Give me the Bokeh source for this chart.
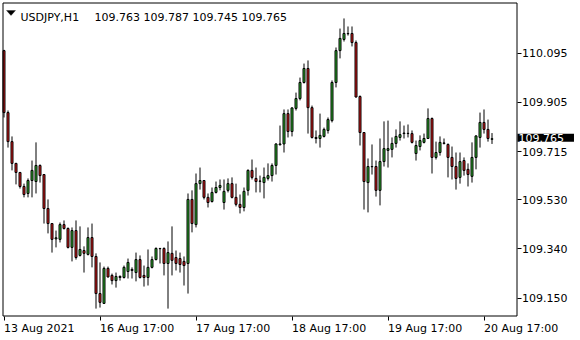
from bokeh.plotting import figure
from bokeh.models import (Range1d, FixedTicker, Label, PolyAnnotation, AllLabels, BoxAnnotation,
                          ColumnDataSource, PrintfTickFormatter)
from bokeh.embed import file_html
from bokeh.resources import INLINE

symbol = "USDJPY,H1"
last_ohlc = "109.763 109.787 109.745 109.765"
last_price = 109.765

opens = [110.105, 109.866, 109.754, 109.670, 109.635, 109.581, 109.554, 109.604, 109.600, 109.662,
         109.627, 109.496, 109.438, 109.379, 109.377, 109.434, 109.419, 109.346, 109.411, 109.315,
         109.334, 109.319, 109.384, 109.311, 109.168, 109.130, 109.265, 109.238, 109.218, 109.230,
         109.230, 109.253, 109.257, 109.249, 109.299, 109.238, 109.230, 109.269, 109.299, 109.342,
         109.342, 109.284, 109.323, 109.307, 109.303, 109.292, 109.284, 109.531, 109.434, 109.592,
         109.604, 109.539, 109.523, 109.558, 109.577, 109.519, 109.566, 109.592, 109.539, 109.512,
         109.500, 109.566, 109.643, 109.612, 109.602, 109.596, 109.612, 109.623, 109.662, 109.742,
         109.745, 109.862, 109.793, 109.882, 109.920, 109.982, 110.036, 109.885, 109.770, 109.766,
         109.774, 109.797, 109.835, 109.982, 110.105, 110.148, 110.171, 110.171, 110.136, 109.928,
         109.789, 109.596, 109.658, 109.658, 109.566, 109.677, 109.720, 109.724, 109.747, 109.770,
         109.785, 109.785, 109.785, 109.708, 109.735, 109.751, 109.766, 109.843, 109.693, 109.712,
         109.749, 109.743, 109.693, 109.658, 109.616, 109.681, 109.647, 109.620, 109.693, 109.770,
         109.828, 109.801, 109.763]
highs = [110.108, 109.874, 109.774, 109.672, 109.637, 109.592, 109.612, 109.681, 109.751, 109.666,
         109.629, 109.531, 109.440, 109.411, 109.442, 109.450, 109.423, 109.423, 109.450, 109.427,
         109.350, 109.423, 109.438, 109.323, 109.288, 109.272, 109.272, 109.245, 109.249, 109.238,
         109.276, 109.303, 109.269, 109.326, 109.315, 109.276, 109.338, 109.311, 109.346, 109.344,
         109.346, 109.369, 109.427, 109.334, 109.326, 109.311, 109.554, 109.566, 109.631, 109.654,
         109.606, 109.554, 109.577, 109.600, 109.608, 109.608, 109.612, 109.616, 109.592, 109.550,
         109.577, 109.647, 109.685, 109.654, 109.623, 109.654, 109.670, 109.670, 109.747, 109.816,
         109.878, 109.878, 109.886, 109.943, 110.001, 110.055, 110.067, 109.893, 109.797, 109.862,
         109.808, 109.847, 109.990, 110.117, 110.190, 110.229, 110.198, 110.198, 110.144, 109.932,
         109.791, 109.689, 109.743, 109.681, 109.766, 109.832, 109.835, 109.770, 109.801, 109.832,
         109.816, 109.820, 109.797, 109.758, 109.778, 109.785, 109.882, 109.847, 109.754, 109.774,
         109.766, 109.747, 109.735, 109.712, 109.712, 109.693, 109.670, 109.751, 109.778, 109.866,
         109.878, 109.839, 109.787]
lows = [109.847, 109.731, 109.643, 109.589, 109.573, 109.539, 109.539, 109.539, 109.554, 109.596,
        109.438, 109.400, 109.326, 109.346, 109.365, 109.415, 109.342, 109.292, 109.299, 109.311,
        109.249, 109.315, 109.269, 109.110, 109.114, 109.128, 109.230, 109.203, 109.191, 109.218,
        109.226, 109.226, 109.226, 109.215, 109.226, 109.195, 109.199, 109.265, 109.296, 109.284,
        109.238, 109.110, 109.238, 109.257, 109.249, 109.199, 109.168, 109.404, 109.423, 109.569,
        109.531, 109.500, 109.519, 109.554, 109.566, 109.492, 109.558, 109.535, 109.504, 109.477,
        109.485, 109.546, 109.608, 109.558, 109.558, 109.535, 109.604, 109.600, 109.627, 109.739,
        109.712, 109.770, 109.774, 109.874, 109.913, 109.978, 109.785, 109.766, 109.747, 109.731,
        109.770, 109.785, 109.828, 109.963, 110.075, 110.140, 110.163, 110.121, 109.924, 109.739,
        109.492, 109.481, 109.627, 109.542, 109.508, 109.658, 109.654, 109.693, 109.731, 109.758,
        109.766, 109.770, 109.747, 109.681, 109.720, 109.747, 109.764, 109.631, 109.685, 109.700,
        109.743, 109.616, 109.608, 109.569, 109.592, 109.623, 109.581, 109.596, 109.647, 109.731,
        109.785, 109.754, 109.745]
closes = [109.866, 109.754, 109.670, 109.635, 109.581, 109.550, 109.604, 109.643, 109.662, 109.623,
          109.496, 109.438, 109.377, 109.383, 109.434, 109.419, 109.346, 109.411, 109.307, 109.338,
          109.323, 109.384, 109.311, 109.168, 109.134, 109.265, 109.232, 109.218, 109.234, 109.234,
          109.269, 109.288, 109.261, 109.299, 109.230, 109.230, 109.269, 109.299, 109.342, 109.341,
          109.284, 109.326, 109.296, 109.284, 109.280, 109.276, 109.531, 109.438, 109.592, 109.604,
          109.539, 109.519, 109.558, 109.577, 109.585, 109.562, 109.592, 109.539, 109.512, 109.500,
          109.562, 109.643, 109.616, 109.600, 109.601, 109.616, 109.623, 109.662, 109.745, 109.745,
          109.862, 109.793, 109.884, 109.920, 109.982, 110.036, 109.885, 109.770, 109.766, 109.778,
          109.801, 109.839, 109.982, 110.105, 110.152, 110.171, 110.170, 110.136, 109.926, 109.789,
          109.600, 109.658, 109.657, 109.566, 109.677, 109.727, 109.727, 109.747, 109.774, 109.781,
          109.787, 109.786, 109.751, 109.739, 109.758, 109.766, 109.843, 109.693, 109.712, 109.751,
          109.747, 109.693, 109.658, 109.612, 109.677, 109.643, 109.627, 109.693, 109.776, 109.828,
          109.801, 109.766, 109.765]

tick_bars = [0, 24, 48, 72, 96, 120]
tick_labels = ["13 Aug 2021", "16 Aug 17:00", "17 Aug 17:00", "18 Aug 17:00", "19 Aug 17:00", "20 Aug 17:00"]
price_ticks = [110.095, 109.905, 109.715, 109.530, 109.340, 109.150]

UP = "#2fb62f"
DOWN = "#e01a1a"
FONT = "DejaVu Sans"

# pixel geometry of the chart window (the plotting frame is the whole canvas;
# the price scale and time scale are drawn inside it, outside the chart border)
W, H = 580, 340
BAR_PX, FIRST_PX = 4.0, 3.5
PRICE_AT_TOP, PX_PER_UNIT = 110.2982, 259.3
BORDER_L, BORDER_T, BORDER_R, BORDER_B = 2.5, 2.5, 516.5, 315.5
TIME_SCALE_PX = 316

def x_of_px(px):
    return (px - FIRST_PX) / BAR_PX

def y_of_px(py):
    return PRICE_AT_TOP - py / PX_PER_UNIT

def sy(py):            # screen units of annotations are measured up from the frame bottom
    return H - py

x_range = Range1d(x_of_px(0), x_of_px(W))
y_range = Range1d(y_of_px(H), y_of_px(0))

idx = list(range(len(opens)))
src = ColumnDataSource(dict(
    x=idx, o=opens, h=highs, l=lows, c=closes,
    top=[max(o, c) for o, c in zip(opens, closes)],
    bot=[min(o, c) for o, c in zip(opens, closes)],
    col=[UP if c >= o else DOWN for o, c in zip(opens, closes)],
))

p = figure(width=W, height=H, output_backend="svg", toolbar_location=None,
           x_range=x_range, y_range=y_range, y_axis_location="right",
           min_border_left=0, min_border_top=0, min_border_right=0, min_border_bottom=0)
p.background_fill_color = "white"
p.border_fill_color = "white"
p.outline_line_color = None
p.grid.visible = False

p.segment(x0="x", y0="l", x1="x", y1="h", source=src, line_color="black", line_width=1)
p.vbar(x="x", width=0.5, top="top", bottom="bot", source=src,
       fill_color="col", line_color="black", line_width=1)

# chart border
p.add_layout(BoxAnnotation(left=x_of_px(BORDER_L), right=x_of_px(BORDER_R),
                           top=y_of_px(BORDER_T), bottom=y_of_px(BORDER_B),
                           fill_color=None, fill_alpha=0, line_color="black", line_width=1,
                           line_alpha=1))

xa = p.xaxis[0]
xa.fixed_location = y_of_px(TIME_SCALE_PX)
xa.ticker = FixedTicker(ticks=tick_bars)
xa.major_label_overrides = {t: lab for t, lab in zip(tick_bars, tick_labels)}
xa.major_label_policy = AllLabels()
xa.major_label_orientation = -1e-6
xa.major_label_text_font = FONT
xa.major_label_text_font_size = "11px"
xa.major_label_text_color = "black"
xa.major_label_standoff = 8
xa.major_tick_out = 4
xa.major_tick_in = 0
xa.minor_tick_out = 0
xa.minor_tick_in = 0
xa.axis_line_color = None
xa.major_tick_line_color = "black"

ya = p.yaxis[0]
ya.fixed_location = x_of_px(BORDER_R)
ya.ticker = FixedTicker(ticks=price_ticks)
ya.formatter = PrintfTickFormatter(format="%.3f")
ya.major_tick_out = 4
ya.major_tick_in = 0
ya.minor_tick_out = 0
ya.minor_tick_in = 0
ya.major_label_standoff = 1
ya.major_label_text_font = FONT
ya.major_label_text_font_size = "11px"
ya.major_label_text_color = "black"
ya.axis_line_color = None
ya.major_tick_line_color = "black"

# header
p.add_layout(PolyAnnotation(xs=[6, 15, 10.5], ys=[sy(10), sy(10), sy(15)],
                            xs_units="screen", ys_units="screen",
                            fill_color="black", fill_alpha=1, line_color="black", line_width=1))
p.add_layout(Label(x=20, y=sy(17), x_units="screen", y_units="screen", text=symbol,
                   text_baseline="alphabetic", text_font=FONT, text_font_size="11px", text_color="black"))
p.add_layout(Label(x=94, y=sy(17), x_units="screen", y_units="screen", text=last_ohlc,
                   text_baseline="alphabetic", text_font=FONT, text_font_size="11px", text_color="black"))

# current price box on the price scale
p.add_layout(Label(x=x_of_px(517), y=last_price, text="109.765",
                   text_baseline="middle", text_align="left", y_offset=1,
                   text_font=FONT, text_font_size="11px", text_color="white",
                   background_fill_color="black", background_fill_alpha=1,
                   padding=dict(left=1, right=10, top=0, bottom=0)))

open("out.html", "w").write(file_html(p, INLINE))
